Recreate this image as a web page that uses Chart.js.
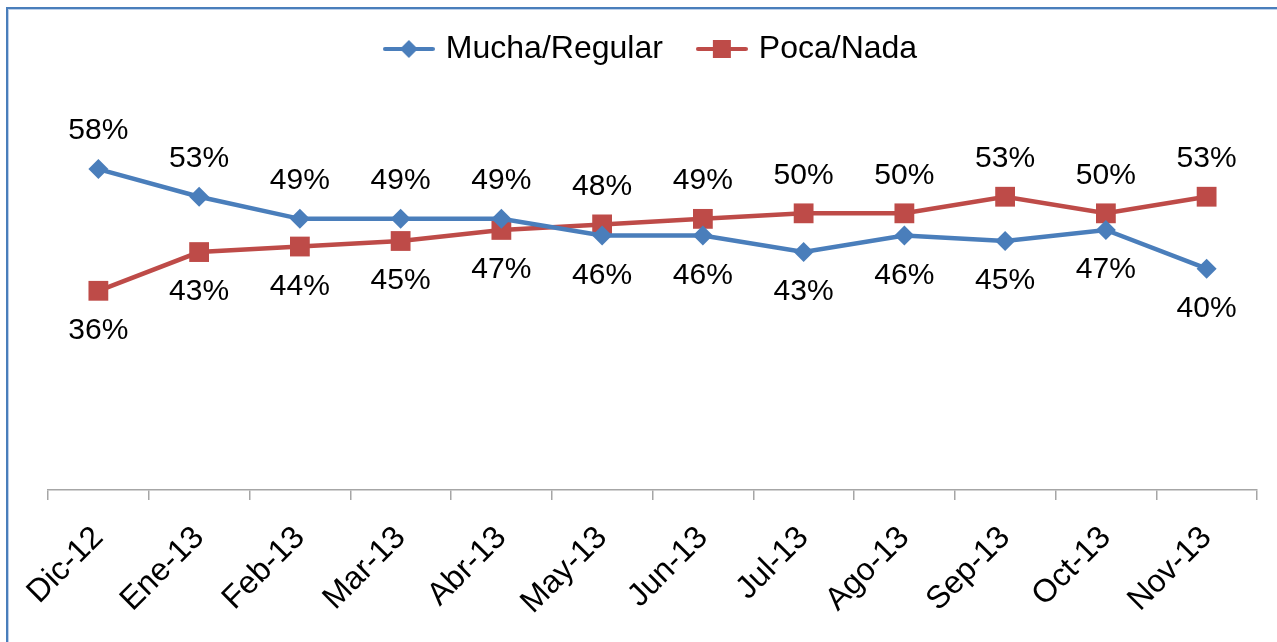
<!DOCTYPE html>
<html>
<head>
<meta charset="utf-8">
<script src="https://cdn.jsdelivr.net/npm/chart.js@4/dist/chart.umd.min.js"></script>
<style>
  html, body { margin: 0; padding: 0; background: #fff; overflow: hidden; }
  #wrap { position: absolute; left: 0; top: 0; width: 1277px; height: 642px; }
  #frame {
    position: absolute; left: 6px; top: 7px; width: 1400px; height: 800px;
    border-top: 2px solid #4a7ebb; border-left: 2px solid #4a7ebb;
    box-shadow: inset 1px 1px 0 #bcd0ea; pointer-events: none;
  }
</style>
</head>
<body>
<div id="wrap">
  <canvas id="chart" width="1277" height="642"></canvas>
  <div id="frame"></div>
</div>
<script>
// Chart data
const months = ["Dic-12", "Ene-13", "Feb-13", "Mar-13", "Abr-13", "May-13",
  "Jun-13", "Jul-13", "Ago-13", "Sep-13", "Oct-13", "Nov-13"]
const muchaRegular = [58, 53, 49, 49, 49, 46, 46, 43, 46, 45, 47, 40]
const pocaNada = [36, 43, 44, 45, 47, 48, 49, 50, 50, 53, 50, 53]

const FONT = "'Liberation Sans', Arial, sans-serif"
const BLUE = "#4a7ebb"
const RED = "#be4b48"

// Legend swatch: line with the series marker in the middle
const makeSwatch = (color, shape) => {
  const c = document.createElement("canvas")
  c.width = 52
  c.height = 24
  const ctx = c.getContext("2d")
  ctx.strokeStyle = color
  ctx.lineWidth = 4
  ctx.lineCap = "round"
  ctx.beginPath()
  ctx.moveTo(2, 12)
  ctx.lineTo(50, 12)
  ctx.stroke()
  ctx.fillStyle = color
  ctx.beginPath()
  if (shape === "diamond") {
    ctx.moveTo(26, 3); ctx.lineTo(35, 12); ctx.lineTo(26, 21); ctx.lineTo(17, 12)
  } else {
    ctx.rect(17, 3, 18, 18)
  }
  ctx.closePath()
  ctx.fill()
  return c
}
const swatches = [makeSwatch(BLUE, "diamond"), makeSwatch(RED, "square")]

// Value labels: above the point for the higher series, below for the lower
const valueLabels = {
  id: "valueLabels",
  afterDatasetsDraw(chart) {
    const { ctx } = chart
    const sets = chart.data.datasets
    ctx.save()
    ctx.font = `30px ${FONT}`
    ctx.fillStyle = "#000"
    ctx.textAlign = "center"
    ctx.textBaseline = "middle"
    sets.forEach((ds, i) => {
      const other = sets[1 - i].data
      chart.getDatasetMeta(i).data.forEach((pt, j) => {
        const above = ds.data[j] >= other[j]
        ctx.fillText(`${ds.data[j]}%`, pt.x, pt.y + (above ? -38 : 40))
      })
    })
    ctx.restore()
  },
}

const config = {
  type: "line",
  data: {
    labels: months,
    datasets: [
      {
        label: "Mucha/Regular",
        data: muchaRegular,
        borderColor: BLUE,
        backgroundColor: BLUE,
        borderWidth: 4.5,
        pointStyle: "rectRot",
        pointRadius: 10,
        pointBorderWidth: 0,
        tension: 0,
      },
      {
        label: "Poca/Nada",
        data: pocaNada,
        borderColor: RED,
        backgroundColor: RED,
        borderWidth: 4.5,
        pointStyle: "rect",
        pointRadius: 14,
        pointBorderWidth: 0,
        tension: 0,
      },
    ],
  },
  options: {
    responsive: false,
    animation: false,
    layout: { padding: { top: -5, left: 48, right: 20, bottom: 0 } },
    plugins: {
      tooltip: { enabled: false },
      legend: {
        position: "top",
        labels: {
          font: { family: FONT, size: 32 },
          color: "#000",
          padding: 38,
          usePointStyle: true,
          pointStyleWidth: 42,
          generateLabels: (chart) =>
            chart.data.datasets.map((ds, i) => ({
              text: ds.label,
              pointStyle: swatches[i],
              datasetIndex: i,
              fillStyle: ds.borderColor,
              strokeStyle: ds.borderColor,
              lineWidth: 0,
              fontColor: "#000",
            })),
        },
      },
    },
    scales: {
      x: {
        offset: true,
        afterFit: (scale) => {
          scale.height = 152
          scale.paddingLeft = 0
          scale.paddingRight = 0
        },
        grid: {
          display: true,
          offset: true,
          drawOnChartArea: false,
          tickLength: 10,
          color: "#a6a6a6",
          lineWidth: 1.5,
        },
        border: { display: true, color: "#a6a6a6", width: 1.5 },
        ticks: {
          autoSkip: false,
          minRotation: 45,
          maxRotation: 45,
          padding: 19,
          color: "#000",
          font: { family: FONT, size: 32 },
        },
      },
      y: { display: false, min: 0, max: 75 },
    },
  },
  plugins: [valueLabels],
}

new Chart(document.getElementById("chart"), config)
</script>
</body>
</html>
